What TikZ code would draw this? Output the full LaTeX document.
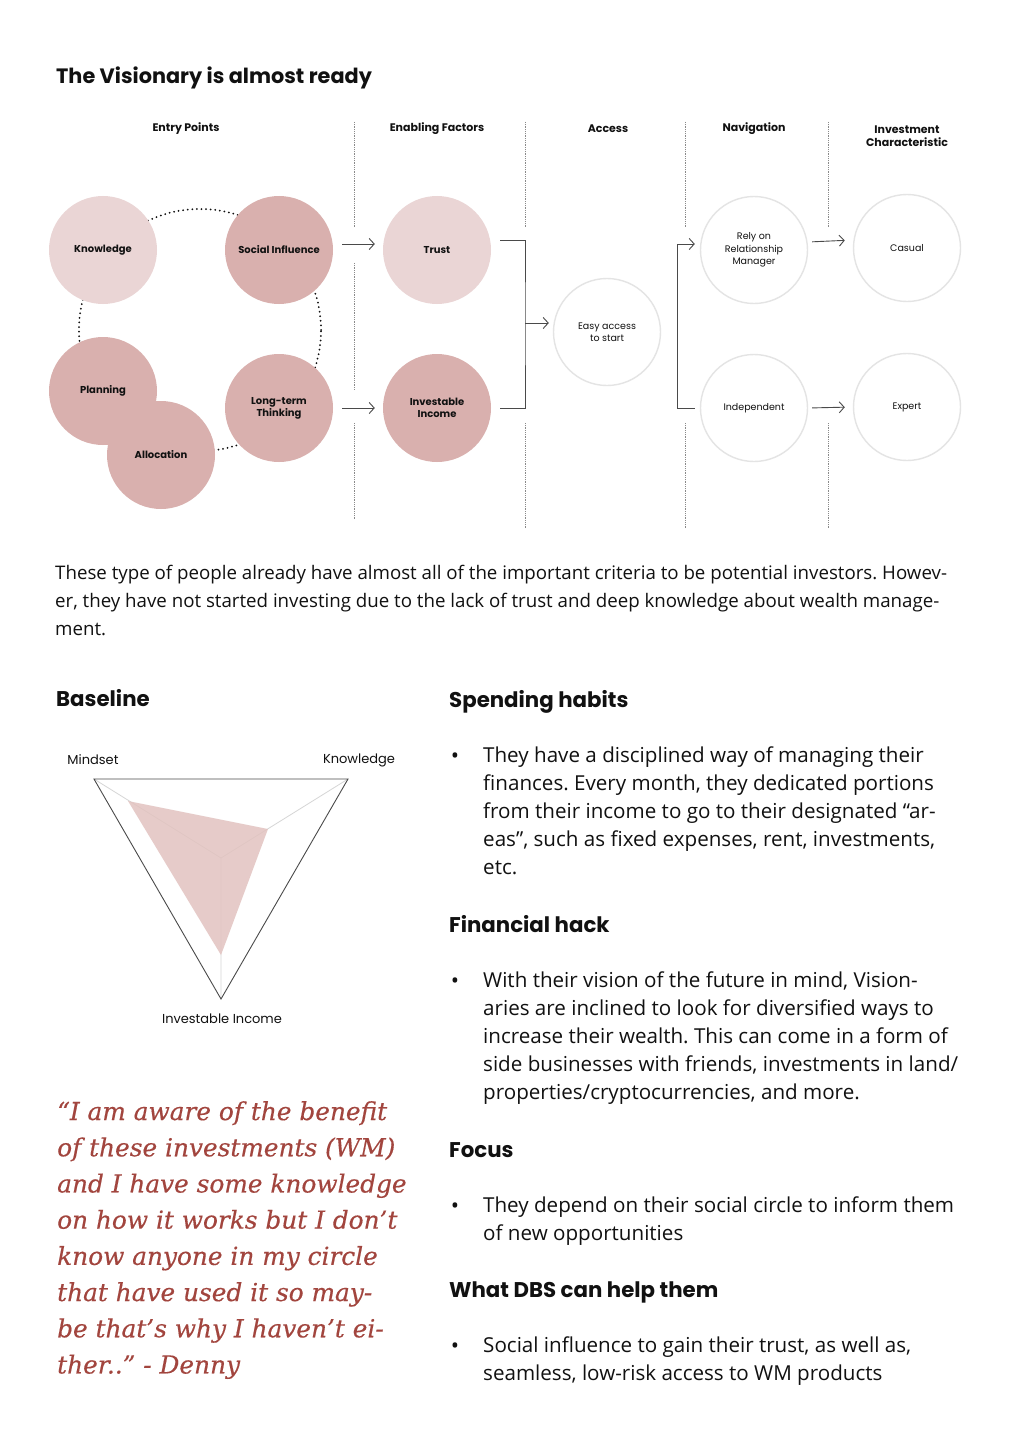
\documentclass[tikz,border=0pt]{standalone}
\usepackage{fontspec}
\setmainfont{Open Sans}
\newfontfamily\headfont{Poppins}
\newfontfamily\quotefont[ItalicFeatures={FakeBold=0.4}]{DejaVu Serif}
\usetikzlibrary{arrows.meta,positioning}
\definecolor{blush}{HTML}{EAD5D5}
\definecolor{rose}{HTML}{D9B0AE}
\definecolor{ink}{HTML}{111111}
\definecolor{rim}{HTML}{E4E4E4}
\definecolor{brick}{HTML}{A2453E}
\definecolor{divider}{HTML}{8A8A8A}
\definecolor{wire}{HTML}{4A4A4A}
\definecolor{petal}{HTML}{E2C3C0}
\definecolor{spoke}{HTML}{D6D6D6}
\tikzset{
  bubble/.style={circle,minimum size=108pt,inner sep=0pt,align=center,text=ink,font=\headfont\bfseries\fontsize{10}{12}\selectfont},
  soft/.style={bubble,fill=blush},
  deep/.style={bubble,fill=rose},
  hollow/.style={circle,draw=rim,line width=1.4pt,fill=white,minimum size=107pt,inner sep=0pt,align=center,text=ink,font=\headfont\fontsize{9.5}{12.5}\selectfont},
  colhead/.style={font=\headfont\bfseries\fontsize{11}{13.5}\selectfont,align=center,text=ink,inner sep=0pt},
  sep/.style={draw=divider,line width=0.8pt,dash pattern=on 1pt off 0.8pt},
  ring/.style={draw=ink,line width=2pt,dash pattern=on 0pt off 4.6pt,line cap=round},
  flow/.style={-{Straight Barb[length=5pt,width=11pt]},draw=wire,line width=0.9pt},
  link/.style={draw=wire,line width=0.9pt},
  heading/.style={anchor=base west,inner sep=0pt,text=ink,font=\headfont\bfseries\fontsize{21.3}{25}\selectfont},
  body/.style={anchor=north west,align=left,inner sep=0pt,text=ink,font=\fontsize{20.6}{28}\selectfont},
  dot/.style={anchor=base,inner sep=0pt,text=ink,font=\fontsize{22}{28}\selectfont},
  axislbl/.style={inner sep=0pt,text=ink,font=\headfont\fontsize{13}{15}\selectfont},
}
\frenchspacing
\begin{document}
\begin{tikzpicture}[x=1pt,y=-1pt]
  \useasboundingbox[fill=white] (0,0) rectangle (1012,1442);
  \node[heading,font=\headfont\bfseries\fontsize{20.8}{24}\selectfont] (title) at (56,84) {The Visionary is almost ready};

  \node[colhead] (hentry) at (186,129) {Entry Points};
  \node[colhead] (henable) at (437,129) {Enabling Factors};
  \node[colhead] (haccess) at (608,129) {Access};
  \node[colhead] (hnav) at (754,129) {Navigation};
  \node[colhead] (hchar) at (907,136) {Investment\\Characteristic};

  \draw[sep] (354,122) -- (354,228) (354,263) -- (354,390) (354,423) -- (354,520);
  \draw[sep] (525,122) -- (525,228) (525,423) -- (525,528);
  \draw[sep] (685,122) -- (685,228) (685,423) -- (685,528);
  \draw[sep] (828,122) -- (828,228) (828,423) -- (828,528);

  \draw[ring] (200,330) circle (121pt);
  \node[soft] (know) at (103,250) {Knowledge};
  \node[deep] (soc) at (279,250) {Social Influence};
  \node[deep] (plan) at (103,391) {Planning};
  \node[deep] (alloc) at (161,455) {Allocation};
  \node[deep] (long) at (279,408) {Long-term\\Thinking};
  \node[soft] (trust) at (437,250) {Trust};
  \node[deep] (inv) at (437,408) {Investable\\Income};
  \node[hollow] (easy) at (607,332) {Easy access\\to start};
  \node[hollow] (rely) at (754,250) {Rely on\\Relationship\\Manager};
  \node[hollow] (indep) at (754,408) {Independent};
  \node[hollow] (casual) at (907,248) {Casual};
  \node[hollow] (expert) at (907,407) {Expert};

  \draw[flow,shorten <=9pt,shorten >=8pt] ([yshift=6pt]soc.east) -- ([yshift=6pt]trust.west);
  \draw[flow,shorten <=9pt,shorten >=8pt] (long.east) -- (inv.west);
  \coordinate (join) at (525,323);
  \draw[link] ([xshift=9pt,yshift=10pt]trust.east) -| (join) |- ([xshift=9pt]inv.east);
  \draw[flow,shorten >=4pt] (join) -- (join -| easy.west);
  \coordinate (fork) at (677,330);
  \draw[flow] ([xshift=-5pt]indep.west) -| (fork) |- ([xshift=-5pt,yshift=6pt]rely.west);
  \draw[flow,shorten <=4pt,shorten >=8pt] ([yshift=8pt]rely.east) -- ([yshift=8pt]casual.west);
  \draw[flow,shorten <=4pt,shorten >=8pt] (indep.east) -- (expert.west);

  \node[body,font=\fontsize{18.7}{28}\selectfont] (intro) at (55,565) {These type of people already have almost all of the important criteria to be potential investors. Howev-\\er, they have not started investing due to the lack of trust and deep knowledge about wealth manage-\\ment.};

  \node[heading] (hbase) at (56,706) {Baseline};
  \coordinate (rc) at (221,858);
  \coordinate (rm) at (94,779);
  \coordinate (rk) at (348,779);
  \coordinate (ri) at (221,999);
  \draw[spoke,line width=0.8pt] (rc) -- (rm) (rc) -- (rk) (rc) -- (ri);
  \fill[petal,fill opacity=0.85] (128,801) -- (268,829) -- (221,955) -- cycle;
  \draw[wire,line width=0.9pt] (rm) -- (rk) -- (ri) -- cycle;
  \node[axislbl] (lmind) at (93,760) {Mindset};
  \node[axislbl] (lknow) at (359,760) {Knowledge};
  \node[axislbl] (linc) at (222,1019) {Investable Income};

  \node[anchor=north west,align=left,inner sep=0pt,text=brick,font=\quotefont\itshape\fontsize{24.8}{36.2}\selectfont] (quote) at (57,1101) {“I am aware of the benefit\\of these investments (WM)\\and I have some knowledge\\on how it works but I don’t\\know anyone in my circle\\that have used it so may-\\be that’s why I haven’t ei-\\ther..” - Denny};

  \node[heading] (hspend) at (449,707) {Spending habits};
  \node[dot] (d1) at (455,763) {\textbullet};
  \node[body] (tspend) at (483,747) {They have a disciplined way of managing their\\finances. Every month, they dedicated portions\\from their income to go to their designated “ar-\\eas”, such as fixed expenses, rent, investments,\\etc.};

  \node[heading] (hhack) at (449,932) {Financial hack};
  \node[dot] (d2) at (455,988) {\textbullet};
  \node[body] (thack) at (483,972) {With their vision of the future in mind, Vision-\\aries are inclined to look for diversified ways to\\increase their wealth. This can come in a form of\\side businesses with friends, investments in land/\\properties/cryptocurrencies, and more.};

  \node[heading] (hfocus) at (449,1157) {Focus};
  \node[dot] (d3) at (455,1213) {\textbullet};
  \node[body] (tfocus) at (483,1197) {They depend on their social circle to inform them\\of new opportunities};

  \node[heading] (hdbs) at (449,1297) {What DBS can help them};
  \node[dot] (d4) at (455,1353) {\textbullet};
  \node[body] (tdbs) at (483,1337) {Social influence to gain their trust, as well as,\\seamless, low-risk access to WM products};
\end{tikzpicture}
\end{document}
